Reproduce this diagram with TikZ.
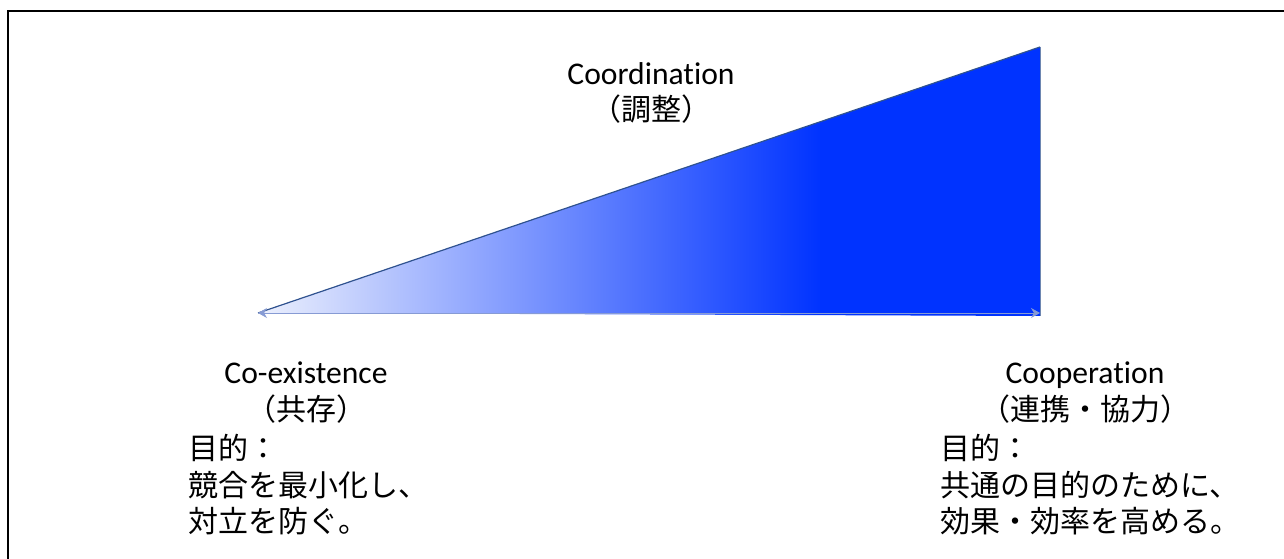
\documentclass[tikz,border=0pt]{standalone}
\usepackage{fontspec}
\setmainfont[Ligatures=NoCommon]{Carlito}
\newfontfamily\jpfont{Noto Sans CJK JP}
\usetikzlibrary{arrows.meta,positioning}
\definecolor{edgeblue}{RGB}{47,82,143}
\definecolor{deepblue}{RGB}{0,51,255}
\definecolor{paleblue}{RGB}{236,240,253}
\definecolor{lineblue}{RGB}{135,155,212}
\pgfdeclarehorizontalshading{rampfill}{100bp}{color(0bp)=(paleblue); color(25bp)=(paleblue); color(61bp)=(deepblue); color(100bp)=(deepblue)}
\newcommand\jptext[1]{{\fontsize{30}{36.5}\selectfont\jpfont #1}}

\begin{document}
\begin{tikzpicture}[x=1pt,y=1pt,
        title/.style={font=\fontsize{31.6}{36.5}\selectfont,align=center,inner sep=0pt,anchor=north},
        goal/.style={font=\fontsize{30}{36.5}\selectfont\jpfont,align=left,inner sep=0pt,anchor=north west},
        span/.style={{Stealth[length=9pt,width=10pt]}-{Stealth[length=9pt,width=10pt]},lineblue,line width=0.8pt}]
        \useasboundingbox (0,0) rectangle (1284,559);
        \draw[line width=2.5pt] (8,0) -- (8,548) -- (1284,548);
        % wedge
        \coordinate (low)  at (258,246);
        \coordinate (high) at (1040,512);
        \coordinate (foot) at (1040,243);
        \shade[shading=rampfill] (low) -- (high) -- (foot) -- cycle;
        \draw[edgeblue,line width=1.2pt] (low) -- (high);
        \draw[edgeblue!70,line width=0.8pt] (high) -- (foot);
        \draw[span] (low) -- (low -| foot);
        % labels
        \node[title] (coord) at (651,497) {Coordination\\\jptext{（調整）}};
        \node[title] (coex)  at (306,197) {Co-existence\\\jptext{（共存）}};
        \node[title] (coop)  at (1085,197) {Cooperation\\\jptext{（連携・協力）}};
        \node[goal] (goalL) at (188,125) {目的：\\競合を最小化し、\\対立を防ぐ。};
        \node[goal] (goalR) at (940,125) {目的：\\共通の目的のために、\\効果・効率を高める。};
      \end{tikzpicture}
\end{document}
